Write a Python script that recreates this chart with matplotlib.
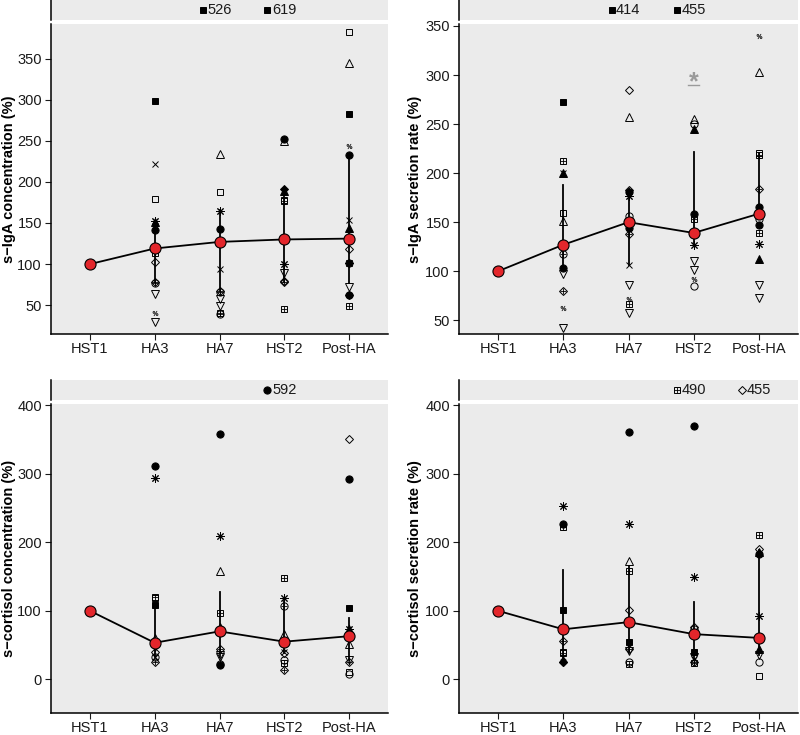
import numpy as np
import matplotlib.pyplot as plt

plt.rcParams['font.family'] = ['Liberation Sans', 'DejaVu Sans']

stages = ['HST1', 'HA3', 'HA7', 'HST2', 'Post-HA']

# ---- s-IgA concentration ----
iga_conc_mean = [100, 119, 127, 130, 131]
iga_conc_lo = [100, 78, 67, 78, 77]
iga_conc_hi = [100, 153, 166, 191, 233]
iga_conc_pts = [
    [],
    [('sqf', 298), ('x', 222), ('sq', 179), ('ast', 153), ('trif', 151), ('cf', 142), ('sqp', 113),
     ('dia', 103), ('diap', 78), ('cp', 77), ('inv', 64), ('pct', 40), ('inv', 30)],
    [('tri', 234), ('sq', 187.5), ('ast', 164), ('cf', 143), ('x', 94), ('diap', 67), ('cp', 66),
     ('inv', 57), ('inv', 49), ('sqp', 41), ('cp', 39)],
    [('cf', 252), ('tri', 250), ('diaf', 191), ('trif', 189), ('sq', 178), ('sqp', 177), ('ast', 100),
     ('inv', 89), ('dia', 80), ('diap', 78), ('sqp', 45)],
    [('sq', 382), ('tri', 345), ('sqf', 283), ('pct', 244), ('cf', 233), ('x', 154), ('trif', 144),
     ('dia', 118), ('ast', 101), ('cf', 101), ('inv', 72), ('diap', 63), ('cf', 62), ('sqp', 49)],
]
iga_conc_top = [(2, 'sqf', 526), (3, 'sqf', 619)]

# ---- s-IgA secretion rate ----
iga_rate_mean = [100, 127, 150, 139, 158.6]
iga_rate_lo = [100, 101, 106, 127, 155]
iga_rate_hi = [100, 188, 184, 222, 221]
iga_rate_pts = [
    [],
    [('sqf', 272), ('sqp', 212), ('trif', 200), ('x', 200), ('sq', 159), ('tri', 151), ('cp', 118),
     ('cf', 103), ('inv', 97), ('diap', 80), ('pct', 62), ('inv', 42)],
    [('dia', 284.6), ('tri', 257), ('diap', 183), ('cf', 181), ('ast', 177), ('c', 156), ('cf', 144),
     ('diap', 138), ('x', 106), ('inv', 86), ('pct', 72), ('sqp', 67), ('inv', 57)],
    [('tri', 255), ('c', 250), ('trif', 245), ('cf', 158), ('sqp', 153), ('ast', 127), ('inv', 110),
     ('inv', 101), ('pct', 92), ('c', 84.5)],
    [('pct', 340), ('tri', 303), ('sq', 221), ('sqp', 218), ('diap', 184), ('cf', 165), ('c', 153),
     ('cf', 147), ('sqp', 139), ('ast', 128), ('trif', 112.5), ('inv', 85.5), ('inv', 73)],
]
iga_rate_top = [(2, 'sqf', 414), (3, 'sqf', 455)]

# ---- s-cortisol concentration ----
cort_conc_mean = [100, 53.4, 70, 55, 63]
cort_conc_lo = [100, 33, 33, 38, 28]
cort_conc_hi = [100, 109, 128, 115, 89]
cort_conc_pts = [
    [],
    [('cf', 311), ('ast', 293.5), ('sqp', 120), ('sq', 119), ('sqf', 109), ('tri', 60), ('inv', 47),
     ('dia', 40), ('x', 33), ('c', 33), ('diap', 25)],
    [('cf', 358), ('ast', 209), ('tri', 158), ('sqp', 97), ('trif', 77), ('diap', 45), ('inv', 35),
     ('inv', 32), ('cp', 22), ('cf', 21)],
    [('sqp', 148.5), ('ast', 119), ('cp', 107), ('tri', 66), ('x', 40), ('dia', 38), ('c', 28),
     ('sqp', 24), ('diap', 14)],
    [('dia', 351), ('cf', 292), ('sqf', 104), ('ast', 74), ('trif', 73), ('tri', 51.5), ('inv', 28),
     ('diap', 26), ('sq', 11), ('c', 8)],
]
cort_conc_top = [(3, 'cf', 592)]

# ---- s-cortisol secretion rate ----
cort_rate_mean = [100, 73, 83.5, 66, 60.5]
cort_rate_lo = [100, 30, 40, 30, 35]
cort_rate_hi = [100, 160, 165, 113, 188]
cort_rate_pts = [
    [],
    [('ast', 253), ('cf', 226), ('sqp', 222), ('sqf', 101), ('diap', 56), ('sq', 40), ('sqp', 38),
     ('x', 33), ('diap', 26), ('diaf', 26)],
    [('cf', 360), ('ast', 226), ('tri', 173), ('sqp', 158), ('dia', 101), ('sqf', 55), ('diap', 45),
     ('inv', 42), ('c', 25), ('sqp', 22)],
    [('cf', 370), ('ast', 149), ('dia', 77), ('c', 73), ('sqf', 40), ('inv', 33), ('x', 30),
     ('diap', 26), ('sqp', 24)],
    [('sqp', 211), ('dia', 190), ('trif', 186), ('cf', 183), ('ast', 92), ('trif', 45), ('inv', 35),
     ('c', 26), ('sq', 5)],
]
cort_rate_top = [(3, 'sqp', 490), (4, 'dia', 455)]

SHAPES = {
    'sqf': ('s', 'k', 4.8), 'sq': ('s', 'none', 4.8), 'sqp': ('s', 'none', 4.8),
    'tri': ('^', 'none', 5.2), 'trif': ('^', 'k', 5.2), 'inv': ('v', 'none', 5.2),
    'cf': ('o', 'k', 5.2), 'c': ('o', 'none', 5.2), 'cp': ('o', 'none', 5.2),
    'dia': ('D', 'none', 4.2), 'diaf': ('D', 'k', 4.2), 'diap': ('D', 'none', 4.2),
    'x': ('x', 'k', 5.0), 'ast': ((8, 2, 0), 'k', 6.0), 'pct': ('$\\%$', '#333333', 3.8),
}
BG = '#EBEBEB'


def mark(ax, x, y, shape, z=3):
    m, fc, ms = SHAPES[shape]
    mew = 0.3 if shape == 'pct' else 0.7
    ec = '#333333' if shape == 'pct' else 'k'
    ax.plot(x, y, marker=m, ms=ms, mfc=fc, mec=ec, mew=mew, ls='none', zorder=z, clip_on=False)
    if shape in ('sqp', 'cp', 'diap'):
        ax.plot(x, y, marker='+', ms=ms * 0.95, mec='k', mew=0.6, ls='none', zorder=z, clip_on=False)


def panel(rect, ylabel, ylim, yticks, mean, lo, hi, pts, top, labx):
    l, b, w, h = rect
    px = 1 / 735
    ax = fig.add_axes([l, b, w, h])
    st = fig.add_axes([l, b + h + 4 * px, w, 20 * px])
    xs = np.arange(1, 6)
    for a in (ax, st):
        a.set_facecolor(BG)
        a.set_xlim(0.4, 5.6)
        for s in ('top', 'right'):
            a.spines[s].set_visible(False)
        a.spines['left'].set_linewidth(1.1)
    st.spines['bottom'].set_visible(False)
    st.set_xticks([])
    st.set_yticks([])
    st.set_ylim(0, 1)
    ax.spines['bottom'].set_linewidth(1.1)
    ax.set_ylim(*ylim)
    ax.set_yticks(yticks)
    ax.set_xticks(xs)
    ax.set_xticklabels(stages)
    ax.tick_params(direction='out', length=4, width=0.8, labelsize=10.5, colors='#1a1a1a', pad=2.5)
    ax.tick_params(axis='x', pad=1.5)
    ax.set_ylabel(ylabel, fontsize=10.5, fontweight='bold')
    ax.yaxis.set_label_coords(labx, 0.5)

    for i, col in enumerate(pts):
        for shape, v in col:
            mark(ax, xs[i], v, shape)
    for i in range(1, 5):
        ax.plot([xs[i], xs[i]], [lo[i], hi[i]], color='k', lw=1.3, zorder=3.5)
    ax.plot(xs, mean, color='k', lw=1.3, zorder=4)
    ax.plot(xs, mean, 'o', ms=8, mfc='#E3262B', mec='k', mew=0.8, zorder=5)

    for ci, shape, v in top:
        mark(st, ci + 1 - 0.26, 0.5, shape)
        st.text(ci + 1 - 0.19, 0.48, str(v), ha='left', va='center', fontsize=10.5, color='#1a1a1a')
    return ax


fig = plt.figure(figsize=(8, 7.35), dpi=100)
W, H = 800, 735

panel([51 / W, 1 - 334 / H, 337 / W, 310 / H], 's\u2212IgA concentration (%)', (15, 392),
      np.arange(50, 351, 50), iga_conc_mean, iga_conc_lo, iga_conc_hi, iga_conc_pts, iga_conc_top, -0.105)
axb = panel([459 / W, 1 - 334 / H, 339 / W, 310 / H], 's\u2212IgA secretion rate (%)', (36, 352),
            np.arange(50, 351, 50), iga_rate_mean, iga_rate_lo, iga_rate_hi, iga_rate_pts, iga_rate_top, -0.11)
panel([51 / W, 1 - 713 / H, 337 / W, 309 / H], 's\u2212cortisol concentration (%)', (-49, 401.5),
      np.arange(0, 401, 100), cort_conc_mean, cort_conc_lo, cort_conc_hi, cort_conc_pts, cort_conc_top, -0.105)
panel([459 / W, 1 - 713 / H, 339 / W, 309 / H], 's\u2212cortisol secretion rate (%)', (-49, 401.5),
      np.arange(0, 401, 100), cort_rate_mean, cort_rate_lo, cort_rate_hi, cort_rate_pts, cort_rate_top, -0.11)

# significance mark on HST2 (s-IgA secretion rate)
axb.text(4, 293, '*', color='#9a9a9a', fontsize=18, fontweight='bold', ha='center', va='center', zorder=6)
axb.plot([3.92, 4.08], [289.5, 289.5], color='#9a9a9a', lw=1.0, zorder=6)

fig.savefig('out.png', dpi=100)
